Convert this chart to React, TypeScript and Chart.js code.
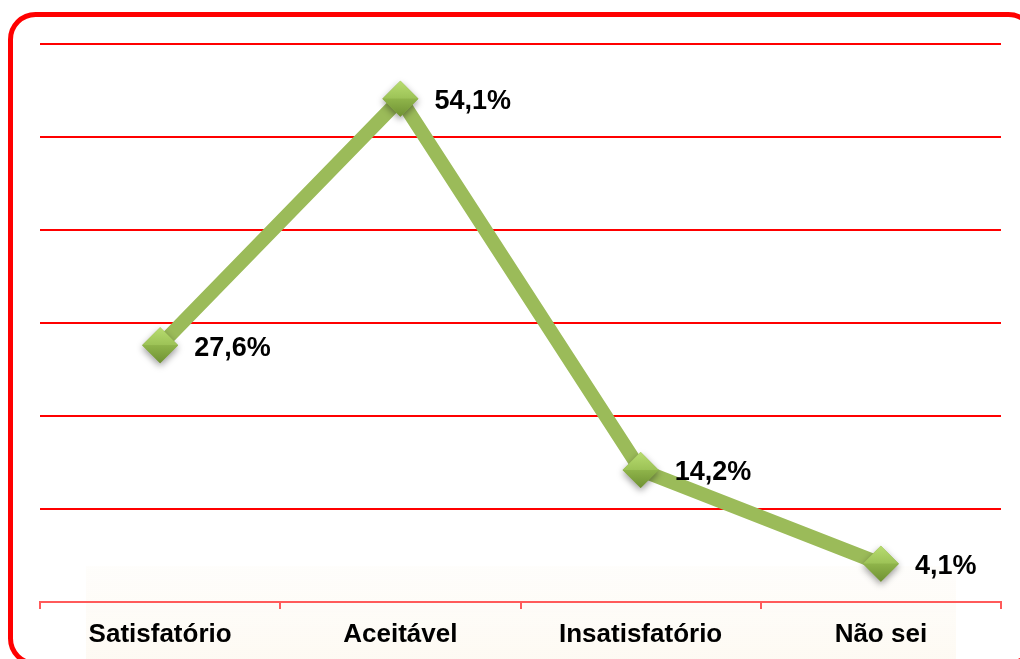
import React, { useEffect, useRef } from "react";
import { Chart, registerables } from "chart.js";

Chart.register(...registerables);

const categories = ["Satisfatório", "Aceitável", "Insatisfatório", "Não sei"];
const values = [27.6, 54.1, 14.2, 4.1];
const valueLabels = ["27,6%", "54,1%", "14,2%", "4,1%"];
const yMin = 0;
const yMax = 60;
const yStep = 10;

const FONT = "'Liberation Sans', Arial, Helvetica, sans-serif";

function roundRect(ctx: CanvasRenderingContext2D, x: number, y: number, w: number, h: number, r: number) {
  ctx.beginPath();
  ctx.moveTo(x + r, y);
  ctx.lineTo(x + w - r, y);
  ctx.arcTo(x + w, y, x + w, y + r, r);
  ctx.lineTo(x + w, y + h - r);
  ctx.arcTo(x + w, y + h, x + w - r, y + h, r);
  ctx.lineTo(x + r, y + h);
  ctx.arcTo(x, y + h, x, y + h - r, r);
  ctx.lineTo(x, y + r);
  ctx.arcTo(x, y, x + r, y, r);
  ctx.closePath();
}

const framePlugin = {
  id: "frame",
  beforeDraw(chart: any) {
    const ctx = chart.ctx as CanvasRenderingContext2D;
    ctx.save();
    // faint beige band behind category labels
    const g = ctx.createLinearGradient(0, 566, 0, 659);
    g.addColorStop(0, "rgba(250,240,222,0.12)");
    g.addColorStop(1, "rgba(250,238,215,0.3)");
    ctx.fillStyle = g;
    ctx.fillRect(86, 566, 870, 93);
    // red rounded frame
    ctx.strokeStyle = "#ff0000";
    ctx.lineWidth = 5;
    roundRect(ctx, 10.5, 14.5, 1023, 649, 25);
    ctx.stroke();
    ctx.restore();
  },
};

const markerPlugin = {
  id: "markers",
  afterDatasetsDraw(chart: any) {
    const ctx = chart.ctx as CanvasRenderingContext2D;
    const meta = chart.getDatasetMeta(0);
    meta.data.forEach((pt: any, i: number) => {
      const x = pt.x;
      const y = pt.y;
      const r = 18;
      ctx.save();
      // shadow
      ctx.shadowColor = "rgba(0,0,0,0.4)";
      ctx.shadowBlur = 7;
      ctx.shadowOffsetY = 3;
      ctx.beginPath();
      ctx.moveTo(x, y - r);
      ctx.lineTo(x + r, y);
      ctx.lineTo(x, y + r);
      ctx.lineTo(x - r, y);
      ctx.closePath();
      ctx.fillStyle = "#8fb04c";
      ctx.fill();
      ctx.shadowColor = "transparent";
      // upper half: light gradient
      const ug = ctx.createLinearGradient(0, y - r, 0, y);
      ug.addColorStop(0, "#b8dc70");
      ug.addColorStop(1, "#9cc256");
      ctx.beginPath();
      ctx.moveTo(x, y - r);
      ctx.lineTo(x + r, y);
      ctx.lineTo(x - r, y);
      ctx.closePath();
      ctx.fillStyle = ug;
      ctx.fill();
      // lower half: darker
      const lg = ctx.createLinearGradient(0, y, 0, y + r);
      lg.addColorStop(0, "#8fb44a");
      lg.addColorStop(1, "#6f9133");
      ctx.beginPath();
      ctx.moveTo(x - r, y);
      ctx.lineTo(x + r, y);
      ctx.lineTo(x, y + r);
      ctx.closePath();
      ctx.fillStyle = lg;
      ctx.fill();
      // label
      ctx.fillStyle = "#000000";
      ctx.font = `bold 27px ${FONT}`;
      ctx.textAlign = "left";
      ctx.textBaseline = "middle";
      ctx.fillText(valueLabels[i], x + 34, y + 3);
      ctx.restore();
    });
  },
};

export default function App() {
  const ref = useRef<HTMLCanvasElement | null>(null);
  useEffect(() => {
    if (!ref.current) return;
    const chart = new Chart(ref.current, {
      type: "line",
      data: {
        labels: categories,
        datasets: [
          {
            data: values,
            borderColor: "#9bbb59",
            borderWidth: 14,
            borderJoinStyle: "round",
            borderCapStyle: "round",
            pointRadius: 0,
            pointHoverRadius: 0,
            fill: false,
            tension: 0,
          },
        ],
      },
      options: {
        animation: false,
        responsive: true,
        maintainAspectRatio: false,
        layout: { padding: { left: 40, right: 19, top: 44, bottom: 0 } },
        plugins: {
          legend: { display: false },
          tooltip: { enabled: false },
        },
        scales: {
          x: {
            offset: true,
            grid: {
              display: true,
              drawOnChartArea: false,
              drawTicks: true,
              tickLength: 7,
              offset: true,
              color: "#ff5a5a",
              lineWidth: 2,
            },
            border: { display: true, color: "#ff5a5a", width: 2 },
            ticks: {
              color: "#000000",
              font: { family: FONT, size: 26, weight: "bold" },
              padding: 10,
              maxRotation: 0,
            },
            afterFit(scale: any) {
              scale.height = 57;
            },
          },
          y: {
            min: yMin,
            max: yMax,
            ticks: { display: false, stepSize: yStep },
            grid: {
              drawTicks: false,
              color: (c: any) => (c.tick && c.tick.value === 0 ? "rgba(0,0,0,0)" : "#ff0000"),
              lineWidth: 2,
            },
            border: { display: false },
          },
        },
      },
      plugins: [framePlugin, markerPlugin],
    });
    return () => chart.destroy();
  }, []);
  return (
    <div style={{ position: "fixed", left: 0, top: 0, width: 1020, height: 659, background: "#ffffff" }}>
      <canvas ref={ref} />
    </div>
  );
}
